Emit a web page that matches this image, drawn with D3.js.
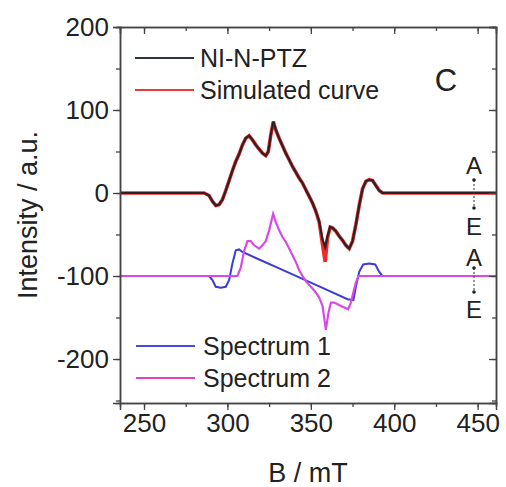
<!DOCTYPE html>
<html><head><meta charset="utf-8">
<script src="https://cdn.jsdelivr.net/npm/d3@7"></script>
<style>body{margin:0;background:#fff}svg{display:block}text{font-family:"Liberation Sans",Arial,sans-serif;fill:#222}</style>
</head><body><svg id="c" width="506" height="487"></svg>
<script>
// field (mT)
const mainB = [236,286,289,291,293,295,297,299,301,303,305,307,309,311,313,315,317,319,321,323,324.5,326,327.5,329,331,333,335,337,339,341,343,345,347,349,351,353,355,357,358.6,360,361.6,363,365,367,369,371,373,375,377,379,381,383,385,387,389,391,393,400,461];
const niNPTZ = [0,0,-3,-10,-15,-14,-8,3,15,27,38,47,58,66,69,64,58,53,48,45,50,70,86,76,66,57,48,40,32,25,18,12,4,-4,-12,-22,-34,-56,-65,-52,-41,-42,-46,-52,-57,-63,-67,-58,-38,-15,5,14,16,15,9,3,0,0,0];
const simulated = [0,0,-3,-10,-15,-14,-8,3,15,27,38,47,58,66,69,64,58,53,48,45,50,70,86,76,66,57,48,40,32,25,18,12,4,-4,-12,-22,-35,-62,-83,-54,-41,-42,-46,-52,-57,-63,-67,-58,-38,-15,5,14,16,15,9,3,0,0,0];
const spec1B = [236,289,291,293,296,299,301,303,305,307,309,320,330,340,350,360,372,375.5,377,379,381.4,385,388.6,391,393,461];
const spectrum1 = [-100,-100,-105,-113,-114,-113,-105,-85,-69,-68,-71,-81,-90,-99,-108,-117,-128,-129,-113,-95,-86,-85,-86,-95,-100,-100];
const spec2B = [236,306,308,310,312,314,316,319,321,323,325,327.4,329,331,333,335,337,339,341,343,345,347,349,351,353,355,357,359,360.5,362,364,366,369,372.4,374,375.5,377,378.5,461];
const spectrum2 = [-100,-100,-90,-70,-58,-58,-63,-67,-63,-58,-45,-25,-35,-45,-53,-59,-67,-75,-83,-93,-100,-106,-111,-115,-120,-126,-136,-165,-145,-132,-132,-134,-137,-140,-132,-120,-108,-100,-100];
const xTicks = [250,300,350,400,450];
const yTicks = [200,100,0,-100,-200];
const legendTop = ["NI-N-PTZ","Simulated curve"];
const legendBottom = ["Spectrum 1","Spectrum 2"];

const svg = d3.select("#c");
const L=120,R=496,T=27,B=403;
const x = d3.scaleLinear().domain([235.6,461]).range([L,R]);
const y = d3.scaleLinear().domain([-253,200]).range([B,T]);
const fs = 26;

const line = (xs, ys) => d3.line().x((d,i)=>x(xs[i])).y(d=>y(d))(ys);

const g = svg.append("g");
// curves
g.append("path").attr("d",line(spec1B,spectrum1)).attr("fill","none").attr("stroke","#3b3bd6").attr("stroke-width",2);
g.append("path").attr("d",line(spec2B,spectrum2)).attr("fill","none").attr("stroke","#d84ae8").attr("stroke-width",2.2);
g.append("path").attr("d",line(mainB,simulated)).attr("fill","none").attr("stroke","#ee2a2a").attr("stroke-width",3.6);
g.append("path").attr("d",line(mainB,niNPTZ)).attr("fill","none").attr("stroke","#2a2224").attr("stroke-width",2.2);

// axes
const axCol="#444";
const fmt = d => String(d);
function styleAxis(sel){sel.select(".domain").attr("stroke",axCol).attr("stroke-width",1.5);sel.selectAll(".tick line").attr("stroke",axCol).attr("stroke-width",1.3);sel.selectAll("text").attr("font-size",fs).attr("fill","#222").style("font-family","Liberation Sans, Arial, sans-serif");}
const minorX = d3.range(250,461,25), minorY = d3.range(-250,201,50);
// minor ticks
const xb = svg.append("g").attr("transform",`translate(0,${B})`).call(d3.axisBottom(x).tickValues(minorX).tickSize(4).tickFormat(""));
styleAxis(xb);
const xt = svg.append("g").attr("transform",`translate(0,${T})`).call(d3.axisTop(x).tickValues(minorX).tickSize(-4).tickFormat(""));
styleAxis(xt);
const yl = svg.append("g").attr("transform",`translate(${L},0)`).call(d3.axisLeft(y).tickValues(minorY).tickSize(4).tickFormat(""));
styleAxis(yl);
const yr = svg.append("g").attr("transform",`translate(${R},0)`).call(d3.axisRight(y).tickValues(minorY).tickSize(-4).tickFormat(""));
styleAxis(yr);
// major
const xbM = svg.append("g").attr("transform",`translate(0,${B})`).call(d3.axisBottom(x).tickValues(xTicks).tickSize(7).tickPadding(4).tickFormat(fmt));
styleAxis(xbM);
const xtM = svg.append("g").attr("transform",`translate(0,${T})`).call(d3.axisTop(x).tickValues(xTicks).tickSize(-7).tickFormat(""));
styleAxis(xtM);
const ylM = svg.append("g").attr("transform",`translate(${L},0)`).call(d3.axisLeft(y).tickValues(yTicks).tickSize(7).tickPadding(4).tickFormat(fmt));
styleAxis(ylM);
const yrM = svg.append("g").attr("transform",`translate(${R},0)`).call(d3.axisRight(y).tickValues(yTicks).tickSize(-7).tickFormat(""));
styleAxis(yrM);

// axis titles
svg.append("text").attr("x",(L+R)/2).attr("y",482).attr("text-anchor","middle").attr("font-size",27).text("B / mT");
svg.append("text").attr("transform",`translate(37,${(T+B)/2}) rotate(-90)`).attr("text-anchor","middle").attr("font-size",27).text("Intensity / a.u.");

// legends
const lgTopCols = ["#2a3446","#ee3a3a"];
legendTop.forEach((t,i)=>{
  const yy = 58 + i*32;
  svg.append("line").attr("x1",135).attr("x2",194).attr("y1",yy).attr("y2",yy).attr("stroke",lgTopCols[i]).attr("stroke-width",2.2);
  svg.append("text").attr("x",200).attr("y",yy).attr("dy","0.35em").attr("font-size",25).text(t);
});
const lgBotCols = ["#4a4ae0","#dd44cc"];
legendBottom.forEach((t,i)=>{
  const yy = 346 + i*32;
  svg.append("line").attr("x1",136).attr("x2",195).attr("y1",yy).attr("y2",yy).attr("stroke",lgBotCols[i]).attr("stroke-width",2.2);
  svg.append("text").attr("x",203).attr("y",yy).attr("dy","0.35em").attr("font-size",25).text(t);
});

// panel label
svg.append("text").attr("x",446).attr("y",80).attr("dy","0.36em").attr("text-anchor","middle").attr("font-size",31).text("C");

// A/E annotations
function ae(yA,y1,y2,yE){
  svg.append("text").attr("x",474).attr("y",yA).attr("dy","0.36em").attr("text-anchor","middle").attr("font-size",24).text("A");
  svg.append("line").attr("x1",474).attr("x2",474).attr("y1",y1).attr("y2",y2).attr("stroke","#333").attr("stroke-width",1).attr("stroke-dasharray","2,2");
  svg.append("circle").attr("cx",474).attr("cy",y1).attr("r",1.8).attr("fill","#222");
  svg.append("circle").attr("cx",474).attr("cy",y2).attr("r",1.8).attr("fill","#222");
  svg.append("text").attr("x",474).attr("y",yE).attr("dy","0.36em").attr("text-anchor","middle").attr("font-size",24).text("E");
}
ae(165,180,208,226);
ae(257,268,292,309);
</script></body></html>
